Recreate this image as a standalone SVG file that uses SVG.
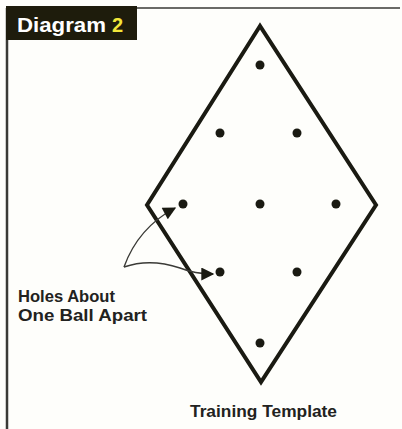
<svg xmlns="http://www.w3.org/2000/svg" width="402" height="429" viewBox="0 0 402 429">
<style>
.lbl{font-family:"Liberation Sans",Arial,sans-serif;font-weight:bold;fill:#222220}
.dot{fill:#1a1a12}
.arr{fill:none;stroke:#3a3a36;stroke-width:1.4}
</style>
<defs>
<marker id="ah2" viewBox="0 0 10 10" refX="9" refY="5" markerWidth="17" markerHeight="13" markerUnits="userSpaceOnUse" orient="auto">
<path d="M0,0 L10,5 L0,10 Z" fill="#1a1a12"/>
</marker>
</defs>
<rect width="402" height="429" fill="#fefefb"/>
<g id="frame">
<line x1="6" y1="8" x2="400" y2="8" stroke="#6a6a66" stroke-width="2"/>
<line x1="7" y1="8" x2="7" y2="429" stroke="#3a3a36" stroke-width="2.5"/>
</g>
<g id="header">
<rect x="6" y="6" width="131" height="34" fill="#1e1c0c"/>
<text x="17" y="32" font-family="Liberation Sans,Arial,sans-serif" font-weight="bold" font-size="20" fill="#ffffff" textLength="89" lengthAdjust="spacingAndGlyphs">Diagram</text>
<text x="112" y="32" font-family="Liberation Sans,Arial,sans-serif" font-weight="bold" font-size="20" fill="#f2e63a">2</text>
</g>
<g id="template">
<polygon points="260,26 147,205 261,382 376,205" fill="none" stroke="#1a1a12" stroke-width="4" stroke-linejoin="miter"/>
</g>
<g id="holes">
<circle class="dot" cx="260" cy="65" r="4.5"/>
<circle class="dot" cx="220" cy="133" r="4.5"/>
<circle class="dot" cx="297" cy="133" r="4.5"/>
<circle class="dot" cx="183" cy="204" r="4.5"/>
<circle class="dot" cx="260" cy="204" r="4.5"/>
<circle class="dot" cx="336" cy="204" r="4.5"/>
<circle class="dot" cx="220" cy="272" r="4.5"/>
<circle class="dot" cx="297" cy="272" r="4.5"/>
<circle class="dot" cx="260" cy="343" r="4.5"/>
</g>
<g id="connectors">
<path class="arr" d="M124,267 Q138,228 175,208" marker-end="url(#ah2)"/>
<path class="arr" d="M124,267 Q150,258 180,268 Q195,274 213,274" marker-end="url(#ah2)"/>
</g>
<g id="label-holes">
<text class="lbl" x="18" y="302" font-size="17" textLength="97" lengthAdjust="spacingAndGlyphs">Holes About</text>
<text class="lbl" x="18" y="321" font-size="17" textLength="129" lengthAdjust="spacingAndGlyphs">One Ball Apart</text>
</g>
<g id="label-title">
<text class="lbl" x="190" y="417" font-size="17" textLength="147" lengthAdjust="spacingAndGlyphs">Training Template</text>
</g>
</svg>
